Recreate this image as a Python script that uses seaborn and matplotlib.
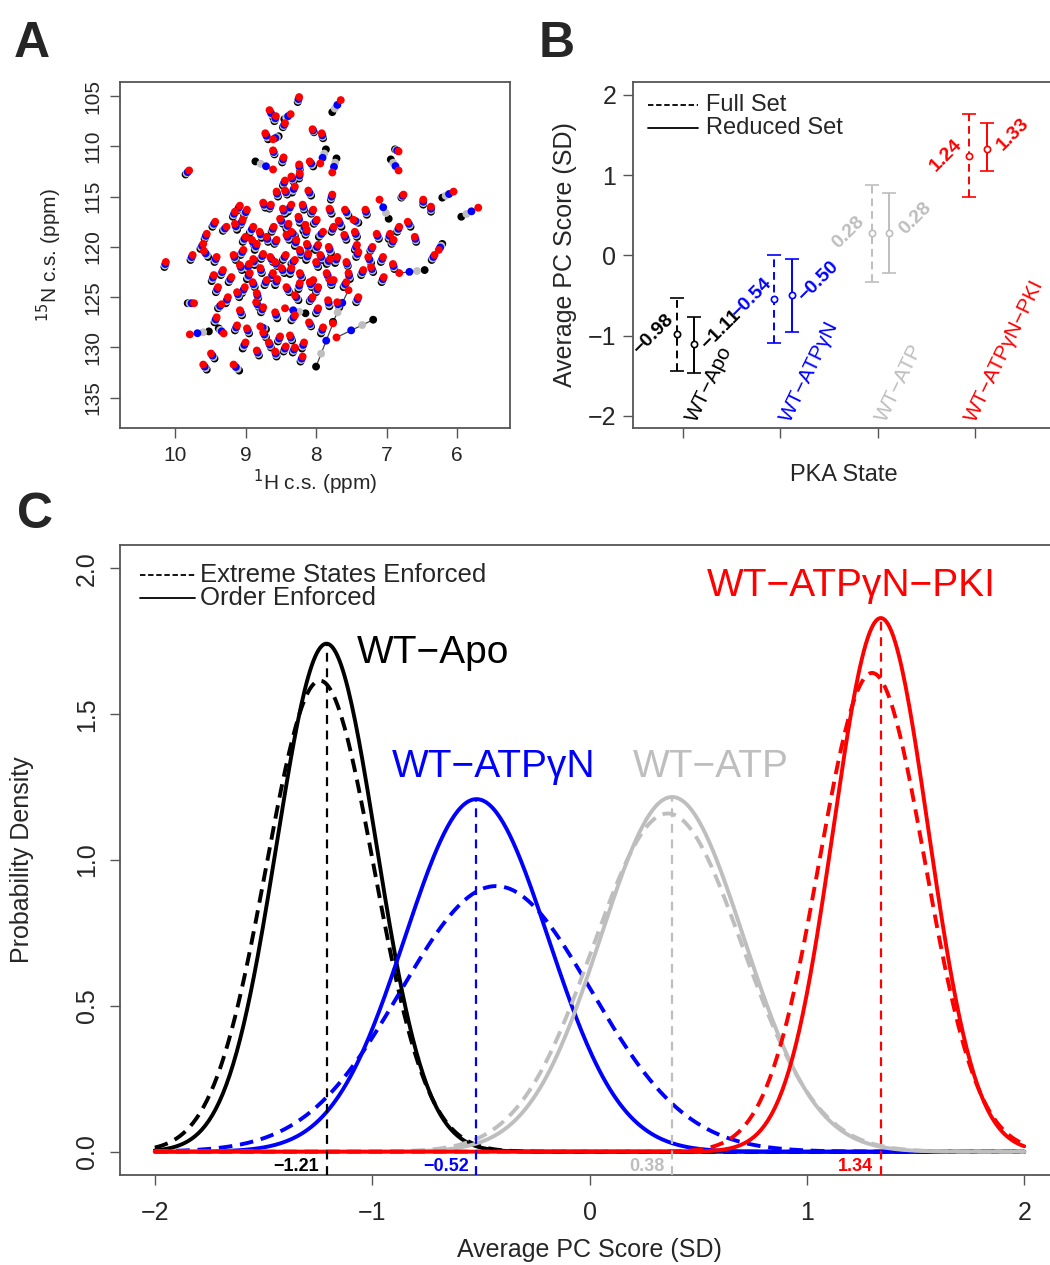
import numpy as np
import pandas as pd
import matplotlib
matplotlib.use("Agg")
import matplotlib.pyplot as plt
import seaborn as sns

sns.set_style("ticks")
plt.rcParams['font.family'] = ['Liberation Sans', 'DejaVu Sans']

# ---------------- panel A : 1H-15N shifts ----------------
# PKI-bound (red) peak position and shift to the apo (black) peak, ppm
h_pki = [8.24, 7.65, 8.66, 8.57, 8.36, 8.44, 8.05, 7.92, 8.72, 8.61,
         8.61, 8.46, 8.24, 8.09, 7.94, 6.83, 9.80, 7.77, 8.61, 8.35,
         8.23, 8.44, 6.83, 8.56, 8.44, 8.30, 8.11, 7.77, 6.76, 6.05,
         9.08, 9.15, 8.98, 8.75, 8.64, 8.47, 8.35, 8.19, 8.04, 7.81,
         7.59, 7.30, 7.10, 6.48, 6.37, 5.70, 9.43, 9.27, 9.15, 9.04,
         8.89, 8.51, 8.39, 8.25, 8.13, 7.99, 7.68, 7.75, 7.47, 6.82,
         6.95, 6.60, 9.55, 9.60, 8.91, 8.84, 8.70, 8.56, 8.42, 8.28,
         8.13, 7.97, 7.82, 7.42, 7.14, 6.90, 6.26, 10.13, 9.75, 9.59,
         9.41, 9.17, 9.03, 8.89, 8.75, 8.58, 8.43, 8.23, 8.11, 7.94,
         7.80, 7.57, 7.40, 7.26, 7.05, 6.91, 6.32, 9.32, 9.08, 8.94,
         8.79, 8.61, 8.49, 8.35, 8.23, 8.04, 7.85, 7.75, 7.54, 7.33,
         7.22, 7.04, 6.82, 9.39, 9.12, 9.01, 8.84, 8.70, 8.42, 8.23,
         8.09, 7.97, 7.80, 7.57, 7.54, 9.73, 9.34, 9.41, 9.08, 8.75,
         8.58, 8.44, 7.97, 7.83, 7.40, 9.79, 9.31, 9.12, 8.98, 8.79,
         8.67, 8.51, 8.37, 8.17, 7.71, 9.49, 9.60, 9.17, 8.84, 8.58,
         8.43, 8.19, 7.76, 9.00, 8.80, 8.60, 8.35, 8.15, 7.90, 7.60,
         8.95, 8.65, 8.30, 8.00, 7.70, 9.20, 8.90, 8.55, 8.30, 8.05,
         7.70, 9.25, 8.85, 8.30, 8.10, 7.90, 8.75, 8.30, 9.00, 7.45,
         7.20, 6.70, 9.45]
n_pki = [105.1, 105.4, 106.4, 107.0, 106.8, 107.7, 108.3, 108.7, 108.7, 109.3,
         110.4, 111.1, 111.8, 111.5, 111.7, 110.5, 112.4, 112.6, 112.3, 113.0,
         112.7, 113.4, 112.4, 114.5, 114.4, 114.0, 114.4, 114.8, 114.8, 114.5,
         115.9, 116.5, 116.3, 115.6, 115.8, 116.2, 115.8, 115.8, 116.3, 116.2,
         116.3, 116.3, 115.3, 115.3, 116.0, 116.1, 117.5, 118.0, 117.7, 117.3,
         118.0, 117.2, 117.7, 117.0, 118.3, 117.3, 117.4, 118.0, 117.3, 118.0,
         118.7, 119.0, 118.7, 119.7, 119.3, 119.7, 119.0, 119.3, 118.8, 119.3,
         119.7, 119.8, 120.0, 119.8, 118.7, 119.3, 120.3, 121.5, 120.8, 120.4,
         121.0, 120.8, 120.3, 121.2, 120.7, 121.5, 120.8, 120.3, 120.7, 120.8,
         121.2, 121.5, 120.5, 121.0, 121.0, 121.7, 120.8, 122.3, 121.8, 122.6,
         122.1, 122.6, 122.1, 122.1, 122.6, 123.3, 122.6, 123.3, 122.6, 122.3,
         122.0, 123.0, 122.6, 124.0, 124.5, 124.0, 124.6, 123.3, 124.0, 123.6,
         123.5, 124.0, 123.3, 123.5, 124.3, 125.6, 125.7, 127.0, 126.3, 126.0,
         126.5, 126.1, 126.1, 125.3, 125.0, 128.7, 128.6, 127.8, 128.1, 127.9,
         129.5, 128.9, 128.8, 129.5, 129.0, 130.6, 131.7, 131.7, 130.3, 130.4,
         129.9, 130.9, 127.6, 119.0, 118.5, 118.0, 118.5, 117.8, 118.5, 118.8,
         121.7, 121.0, 121.3, 121.5, 121.0, 123.0, 123.5, 123.2, 124.8, 125.0,
         125.5, 125.0, 125.5, 126.8, 127.5, 128.0, 128.5, 130.0, 129.5, 118.5,
         120.0, 117.5, 122.8]
dh_apo = [0.02, 0.12, -0.05, 0.02, 0.09, 0.03, -0.02, -0.02, -0.04, -0.08,
          -0.02, 0.02, -0.01, -0.05, -0.08, 0.05, 0.05, -0.06, 0.25, -0.03,
          0.01, 0.03, 0.11, -0.02, -0.03, 0.04, -0.04, 0.02, 0.03, 0.16,
          0.04, 0.03, 0.04, -0.03, 0.02, -0.03, 0.05, -0.02, 0.03, -0.03,
          -0.05, -0.02, -0.13, 0.00, 0.00, 0.24, 0.04, 0.05, -0.03, 0.03,
          0.05, -0.04, 0.03, -0.02, 0.02, 0.04, -0.04, 0.03, -0.07, 0.03,
          0.02, -0.02, 0.03, 0.04, -0.03, 0.03, -0.02, 0.03, -0.04, 0.02,
          -0.03, 0.04, -0.03, 0.03, -0.03, 0.03, -0.05, 0.02, 0.03, -0.06,
          0.03, -0.03, 0.04, -0.02, 0.03, -0.03, 0.04, -0.02, 0.03, -0.03,
          0.05, -0.02, 0.03, -0.04, 0.03, -0.02, 0.04, 0.03, -0.03, 0.04,
          -0.02, 0.03, -0.04, 0.02, -0.03, 0.03, -0.03, 0.04, -0.02, 0.03,
          -0.03, 0.03, -0.36, 0.03, -0.03, 0.04, -0.02, 0.03, -0.04, 0.02,
          -0.03, 0.03, -0.02, 0.04, 0.22, 0.09, 0.05, 0.03, -0.03, 0.03,
          -0.03, -0.29, 0.03, -0.02, 0.03, -0.27, 0.07, 0.03, -0.03, -0.08,
          -0.03, 0.03, -0.03, 0.03, -0.52, -0.05, -0.05, -0.08, -0.03, -0.02,
          0.03, 0.03, 0.24, 0.04, -0.03, 0.03, -0.05, 0.03, 0.06, -0.03,
          0.03, -0.04, 0.05, -0.03, 0.03, 0.04, -0.03, 0.03, -0.05, 0.04,
          -0.03, 0.03, -0.04, 0.05, -0.03, 0.03, -0.04, 0.03, 0.04, -0.03,
          0.03, -0.04, 0.03]
dn_apo = [0.5, 1.2, 0.7, 0.5, 0.5, 0.4, 0.3, 0.5, 0.6, -0.3,
          0.4, 0.5, 0.5, 0.5, -1.4, -0.2, 0.4, -1.4, -0.8, 0.5,
          0.5, 0.5, -1.1, 0.5, 0.4, 0.6, 0.5, 0.5, 0.3, 0.6,
          0.5, 0.5, 0.6, 0.5, 0.4, 0.5, 0.7, 0.5, 0.4, 0.5,
          0.6, 0.5, 1.9, 0.5, 0.5, 0.9, 0.5, 0.4, 0.6, 0.5,
          0.6, 0.5, 0.5, 0.6, 0.5, 0.4, 0.6, 0.5, 0.3, 0.5,
          0.5, 0.5, 0.5, 0.5, 0.5, 0.6, 0.5, 0.4, 0.5, 0.6,
          0.5, 0.5, 0.6, 0.5, 0.5, 0.4, -0.6, 0.5, 0.5, 0.6,
          0.5, 0.5, 0.5, 0.6, 0.5, 0.4, 0.5, 0.5, 0.6, 0.5,
          0.5, 0.4, 0.5, 0.6, 0.5, 0.5, 0.5, 0.5, 0.5, 0.6,
          0.5, 0.5, 0.5, 0.6, 0.5, 0.5, 0.5, 0.4, 0.6, 0.5,
          0.5, 0.5, -0.3, 0.5, 0.5, 0.6, 0.5, 0.5, 0.5, 0.6,
          0.5, 0.5, 0.5, 0.5, 3.15, 0.0, 0.4, 0.5, 0.5, 0.5,
          0.6, 0.5, 0.5, 0.6, 0.5, -0.3, -0.5, 0.5, 0.5, 0.3,
          0.5, 0.5, 0.5, 0.6, -1.76, 0.5, 0.5, 0.6, 0.5, 0.5,
          0.5, 0.5, 4.3, 0.5, 0.6, 0.5, 0.4, 0.6, 0.5, 0.5,
          0.6, 0.5, 0.4, 0.5, 0.6, 0.5, 0.5, 0.6, 0.5, 0.4,
          0.5, 0.6, 0.5, 0.5, 0.4, 0.6, 0.5, 0.5, 0.6, 0.5,
          0.4, 0.5, 0.6]
# where each state sits between PKI (0) and apo (1)
a_states = ['WT-Apo', 'WT-ATP', 'WT-ATPgN', 'WT-ATPgN-PKI']
a_frac = [1.0, 0.7, 0.4, 0.0]

# ---------------- panel B : average PC scores ----------------
states = ['WT\u2212Apo', 'WT\u2212ATP\u03b3N', 'WT\u2212ATP', 'WT\u2212ATP\u03b3N\u2212PKI']
full_mean = [-0.98, -0.54, 0.28, 1.24]
full_lo = [-1.44, -1.09, -0.33, 0.73]
full_hi = [-0.53, 0.01, 0.88, 1.76]
red_mean = [-1.11, -0.50, 0.28, 1.33]
red_lo = [-1.47, -0.96, -0.22, 1.05]
red_hi = [-0.77, -0.04, 0.78, 1.65]

# ---------------- panel C : score distributions ----------------
order_mean = [-1.21, -0.52, 0.38, 1.34]
order_sd = [0.229, 0.330, 0.328, 0.218]
extreme_mean = [-1.24, -0.43, 0.36, 1.30]
extreme_sd = [0.247, 0.438, 0.344, 0.243]

colors = ['#000000', '#0000FF', '#BEBEBE', '#FF0000']
frame = '#555555'

fig = plt.figure(figsize=(10.5, 12.65), dpi=100)
axA = fig.add_axes([0.1143, 0.6617, 0.3714, 0.2735])
axB = fig.add_axes([0.6029, 0.6617, 0.4019, 0.2735])
axC = fig.add_axes([0.1143, 0.0711, 0.8943, 0.4980])

for ax in (axA, axB, axC):
    for s in ax.spines.values():
        s.set_color(frame)
        s.set_linewidth(1.3)
    ax.tick_params(length=7, width=1, color=frame)

# ---- A ----
h_pki = np.array(h_pki); n_pki = np.array(n_pki)
dh_apo = np.array(dh_apo); dn_apo = np.array(dn_apo)
for h, n, dh, dn in zip(h_pki, n_pki, dh_apo, dn_apo):
    axA.plot([h, h + dh], [n, n + dn], color='#444444', lw=0.9, zorder=1)
a_cols = {'WT-Apo': '#000000', 'WT-ATP': '#BEBEBE', 'WT-ATPgN': '#0000FF',
          'WT-ATPgN-PKI': '#FF0000'}
dfA = pd.concat([pd.DataFrame({'H': h_pki + f * dh_apo, 'N': n_pki + f * dn_apo, 'state': s})
                 for s, f in zip(a_states, a_frac)], ignore_index=True)
sns.scatterplot(data=dfA, x='H', y='N', hue='state', palette=a_cols, s=32,
                linewidth=0, legend=False, ax=axA, zorder=2)
axA.set_xlim(10.78, 5.25)
axA.set_ylim(138.0, 103.6)
axA.set_xticks([10, 9, 8, 7, 6])
axA.set_yticks([105, 110, 115, 120, 125, 130, 135])
axA.tick_params(labelsize=15, pad=6)
for t in axA.get_yticklabels():
    t.set_rotation(90)
    t.set_va('center')
axA.set_xlabel('$^{1}$H c.s. (ppm)', fontsize=15, labelpad=2)
axA.set_ylabel('$^{15}$N c.s. (ppm)', fontsize=15, labelpad=14)

# ---- B ----
pos = np.arange(1, 5)
name_shift = [0.14, 0.10, 0.08, 0.0]
for i in range(4):
    eb = axB.errorbar(pos[i] - 0.06, full_mean[i],
                      yerr=[[full_mean[i] - full_lo[i]], [full_hi[i] - full_mean[i]]],
                      fmt='o', ms=4.5, mfc='white', mec=colors[i], mew=1.2,
                      ecolor=colors[i], elinewidth=1.4, capsize=5, capthick=1.4)
    eb[2][0].set_linestyle((0, (4, 2.5)))
    axB.errorbar(pos[i] + 0.12, red_mean[i],
                 yerr=[[red_mean[i] - red_lo[i]], [red_hi[i] - red_mean[i]]],
                 fmt='o', ms=4.5, mfc='white', mec=colors[i], mew=1.2,
                 ecolor=colors[i], elinewidth=1.4, capsize=5, capthick=1.4)
    axB.text(pos[i] - 0.30, full_mean[i], f'{full_mean[i]:.2f}'.replace('-', '\u2212'),
             color=colors[i], fontsize=14, fontweight='bold', rotation=45,
             ha='center', va='center')
    axB.text(pos[i] + 0.39, red_mean[i] + 0.18, f'{red_mean[i]:.2f}'.replace('-', '\u2212'),
             color=colors[i], fontsize=14, fontweight='bold', rotation=45,
             ha='center', va='center')
    axB.text(pos[i] + name_shift[i], -2.09, states[i], color=colors[i], fontsize=15,
             rotation=64, rotation_mode='anchor', ha='left', va='baseline')
axB.set_xlim(0.49, 4.82)
axB.set_ylim(-2.15, 2.16)
axB.set_xticks(pos)
axB.set_xticklabels([])
axB.set_yticks([-2, -1, 0, 1, 2])
axB.set_yticklabels(['\u22122', '\u22121', '0', '1', '2'])
axB.tick_params(labelsize=18, pad=5)
axB.set_xlabel('PKA State', fontsize=17, labelpad=14)
axB.set_ylabel('Average PC Score (SD)', fontsize=18, labelpad=8)
axB.plot([0.0355, 0.154], [0.934, 0.934], transform=axB.transAxes, color='black',
         lw=1.3, ls=(0, (3, 1.5)))
axB.plot([0.0355, 0.154], [0.867, 0.867], transform=axB.transAxes, color='black', lw=1.3)
axB.text(0.173, 0.934, 'Full Set', transform=axB.transAxes, fontsize=17, va='center')
axB.text(0.173, 0.867, 'Reduced Set', transform=axB.transAxes, fontsize=17, va='center')

# ---- C ----
xs = np.linspace(-2, 2, 500)
def dens(x, m, s):
    return np.exp(-0.5 * ((x - m) / s) ** 2) / (s * np.sqrt(2 * np.pi))

for i in range(4):
    sns.lineplot(x=xs, y=dens(xs, extreme_mean[i], extreme_sd[i]), color=colors[i],
                 lw=2.8, linestyle=(0, (3.5, 2)), ax=axC)
    sns.lineplot(x=xs, y=dens(xs, order_mean[i], order_sd[i]), color=colors[i],
                 lw=2.8, ax=axC)
for i in range(4):
    pk = dens(order_mean[i], order_mean[i], order_sd[i])
    axC.vlines(order_mean[i], -0.08, pk, color=colors[i], lw=1.6,
               linestyles=(0, (4, 3)), zorder=5)
    axC.text(order_mean[i] - 0.035, -0.05, f'{order_mean[i]:.2f}'.replace('-', '\u2212'),
             color=colors[i], fontsize=13, fontweight='bold', ha='right', va='center')

label_xy = [(-1.07, 1.71), (-0.91, 1.32), (0.20, 1.32), (0.54, 1.94)]
for i in range(4):
    axC.text(label_xy[i][0], label_xy[i][1], states[i], color=colors[i], fontsize=28,
             ha='left', va='center')

axC.set_xlim(-2.16, 2.16)
axC.set_ylim(-0.08, 2.08)
axC.set_xticks([-2, -1, 0, 1, 2])
axC.set_xticklabels(['\u22122', '\u22121', '0', '1', '2'])
axC.set_yticks([0, 0.5, 1.0, 1.5, 2.0])
axC.set_yticklabels(['0.0', '0.5', '1.0', '1.5', '2.0'])
axC.tick_params(labelsize=18)
axC.tick_params(axis='x', pad=12)
axC.tick_params(axis='y', pad=8)
for t in axC.get_yticklabels():
    t.set_rotation(90)
    t.set_va('center')
axC.set_xlabel('Average PC Score (SD)', fontsize=18, labelpad=9)
axC.set_ylabel('Probability Density', fontsize=18, labelpad=30)
axC.plot([0.0213, 0.0799], [0.952, 0.952], transform=axC.transAxes, color='black',
         lw=1.3, ls=(0, (3, 1.5)))
axC.plot([0.0213, 0.0799], [0.916, 0.916], transform=axC.transAxes, color='black', lw=1.3)
axC.text(0.0852, 0.952, 'Extreme States Enforced', transform=axC.transAxes,
         fontsize=18.5, va='center')
axC.text(0.0852, 0.916, 'Order Enforced', transform=axC.transAxes, fontsize=18.5, va='center')

for letter, x, y in [('A', 0.013, 0.955), ('B', 0.513, 0.955), ('C', 0.016, 0.583)]:
    fig.text(x, y, letter, fontsize=36, fontweight='bold', ha='left', va='baseline')

fig.savefig('out.png', dpi=100)
